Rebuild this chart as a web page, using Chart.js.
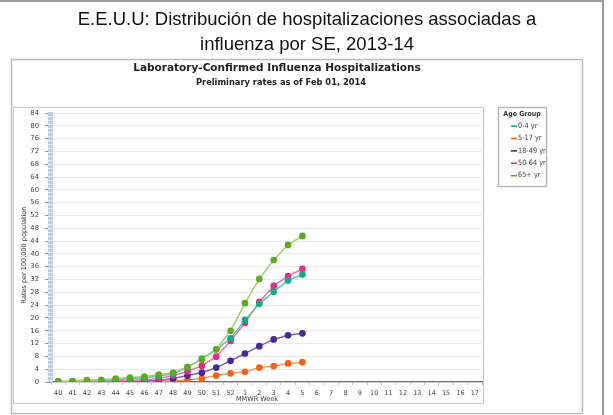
<!DOCTYPE html>
<html>
<head>
<meta charset="utf-8">
<script src="https://cdn.jsdelivr.net/npm/chart.js@4.4.8/dist/chart.umd.min.js"></script>
<style>
  html, body { margin: 0; padding: 0; background: #fff; }
  #wrap { position: relative; width: 613px; height: 415px; }
</style>
</head>
<body>
<div id="wrap"><canvas id="myChart" width="613" height="415"></canvas></div>
<script>
// MMWR weeks 40..52 of 2013, then 1..17 of 2014
const weeks = ['40','41','42','43','44','45','46','47','48','49','50','51','52',
  '1','2','3','4','5','6','7','8','9','10','11','12','13','14','15','16','17'];

// rates per 100,000, weeks 40..5
const rate0to4   = [0.1,0.2,0.4,0.5,0.8,1.0,1.3,1.9,2.6,4.5,7.3,10.2,13.6,19.4,24.4,28.2,31.7,33.6];
const rate5to17  = [0.0,0.0,0.0,0.0,0.1,0.1,0.2,0.2,0.4,0.6,1.1,2.0,2.7,3.2,4.5,5.0,5.8,6.2];
const rate18to49 = [0.0,0.0,0.1,0.1,0.2,0.2,0.3,0.5,1.1,2.0,2.9,4.5,6.6,8.9,11.2,13.3,14.6,15.2];
const rate50to64 = [0.1,0.1,0.2,0.2,0.4,0.5,0.7,1.1,2.0,3.3,5.1,7.9,12.8,18.5,25.0,30.0,33.1,35.3];
const rate65plus = [0.2,0.3,0.6,0.7,1.1,1.4,1.7,2.3,2.9,4.7,7.0,10.2,16.0,24.6,32.2,38.1,42.8,45.6];

const groupNames = ['0-4 yr','5-17 yr','18-49 yr','50-64 yr','65+ yr'];
const yTicks = [0,4,8,12,16,20,24,28,32,36,40,44,48,52,56,60,64,68,72,76,80,84];

const pointColors = ['#1aa888','#ee6418','#4a2896','#e82c86','#62a824'];
const lineColors  = ['#5cc4a8','#f49a60','#7a62b8','#f070aa','#a0d070'];

function pad(arr) {
  const out = arr.slice();
  while (out.length < weeks.length) out.push(null);
  return out;
}

const allRates = [rate0to4, rate5to17, rate18to49, rate50to64, rate65plus];
// draw order: green at the back like the original
const order = [4, 0, 3, 2, 1];

const decor = {
  id: 'decor',
  beforeDraw(chart) {
    const c = chart.ctx;
    c.save();
    c.fillStyle = '#fff';
    c.fillRect(0, 0, 613, 415);
    // outer frame
    c.strokeStyle = '#9a9a9a';
    c.lineWidth = 2;
    c.beginPath();
    c.moveTo(0, 1); c.lineTo(603, 1); c.lineTo(603, 415);
    c.stroke();
    // image box
    c.strokeStyle = '#bdbdbd';
    c.lineWidth = 1.5;
    c.strokeRect(11.5, 59.5, 571, 354);
    // plot box
    c.strokeStyle = '#c8c8c8';
    c.lineWidth = 1;
    c.strokeRect(13.5, 107.5, 470, 296);
    // legend box
    c.strokeStyle = '#b8b8b8';
    c.lineWidth = 1.5;
    c.strokeRect(498.5, 107.5, 48, 79);

    // titles
    c.fillStyle = '#111';
    c.textAlign = 'center';
    c.textBaseline = 'middle';
    c.font = '18.5px "Liberation Sans", Arial, sans-serif';
    c.fillText('E.E.U.U: Distribución de hospitalizaciones associadas a', 307, 20);
    c.fillText('influenza por SE, 2013-14', 307, 45);
    c.fillStyle = '#222';
    c.font = 'bold 10.5px "DejaVu Sans", Verdana, sans-serif';
    c.fillText('Laboratory-Confirmed Influenza Hospitalizations', 277, 68);
    c.font = 'bold 8.3px "DejaVu Sans", Verdana, sans-serif';
    c.fillText('Preliminary rates as of Feb 01, 2014', 281, 83);

    // legend
    c.fillStyle = '#333';
    c.font = 'bold 7px "DejaVu Sans Condensed", "DejaVu Sans", sans-serif';
    c.fillText('Age Group', 522, 114);
    c.textAlign = 'left';
    c.font = '7.3px "DejaVu Sans Condensed", "DejaVu Sans", sans-serif';
    groupNames.forEach((name, i) => {
      const y = 126 + i * 12.4;
      c.fillStyle = pointColors[i];
      c.fillRect(511, y - 0.7, 6, 1.6);
      c.fillStyle = '#444';
      c.fillText(name, 518, y);
    });

    // y axis title
    c.save();
    c.translate(24, 255);
    c.rotate(-Math.PI / 2);
    c.textAlign = 'center';
    c.fillStyle = '#333';
    c.font = '6.5px "DejaVu Sans", sans-serif';
    c.fillText('Rates per 100,000 population', 0, 0);
    c.restore();

    // x axis title
    c.textAlign = 'center';
    c.fillStyle = '#333';
    c.font = '6.5px "DejaVu Sans", sans-serif';
    c.fillText('MMWR Week', 257, 399);
    c.restore();
  },
  beforeDatasetsDraw(chart) {
    const c = chart.ctx;
    const a = chart.chartArea;
    c.save();
    // blue wall along the y axis
    c.fillStyle = '#bcd0e4';
    c.fillRect(48, a.top - 1, 5, a.bottom - a.top + 1);
    c.strokeStyle = '#e4ecf4';
    c.lineWidth = 1;
    for (let y = a.top + 3; y < a.bottom; y += 4) {
      c.beginPath(); c.moveTo(48, y + 0.5); c.lineTo(53, y + 0.5); c.stroke();
    }
    c.restore();
  }
};

new Chart(document.getElementById('myChart'), {
  type: 'line',
  data: {
    labels: weeks,
    datasets: order.map(i => ({
      label: groupNames[i],
      data: pad(allRates[i]),
      borderColor: lineColors[i],
      backgroundColor: pointColors[i],
      pointBackgroundColor: pointColors[i],
      pointBorderColor: pointColors[i],
      borderWidth: 1.5,
      pointRadius: 2.6,
      tension: 0,
      spanGaps: false
    }))
  },
  options: {
    responsive: false,
    animation: false,
    devicePixelRatio: 1,
    layout: { padding: { left: 0, right: 131, top: 113, bottom: 0 } },
    plugins: {
      legend: { display: false },
      title: { display: false },
      tooltip: { enabled: false }
    },
    scales: {
      x: {
        offset: true,
        afterFit(scale) { scale.height = 33; },
        border: { color: '#707070', width: 1.2 },
        grid: {
          drawOnChartArea: false,
          tickLength: 3,
          tickColor: '#c8cc88',
          offset: true
        },
        ticks: {
          color: '#444',
          font: { size: 6.5, family: '"DejaVu Sans", sans-serif' },
          padding: 4,
          maxRotation: 0,
          autoSkip: false
        }
      },
      y: {
        min: 0,
        max: 84,
        afterFit(scale) { scale.width = 51; },
        afterBuildTicks(scale) { scale.ticks = yTicks.map(v => ({ value: v })); },
        border: { display: false },
        grid: {
          color: '#ece8ea',
          tickColor: '#999',
          tickLength: 6,
          lineWidth: 1
        },
        ticks: {
          color: '#444',
          font: { size: 6.8, family: '"DejaVu Sans", sans-serif' },
          padding: 6
        }
      }
    }
  },
  plugins: [decor]
});
</script>
</body>
</html>
